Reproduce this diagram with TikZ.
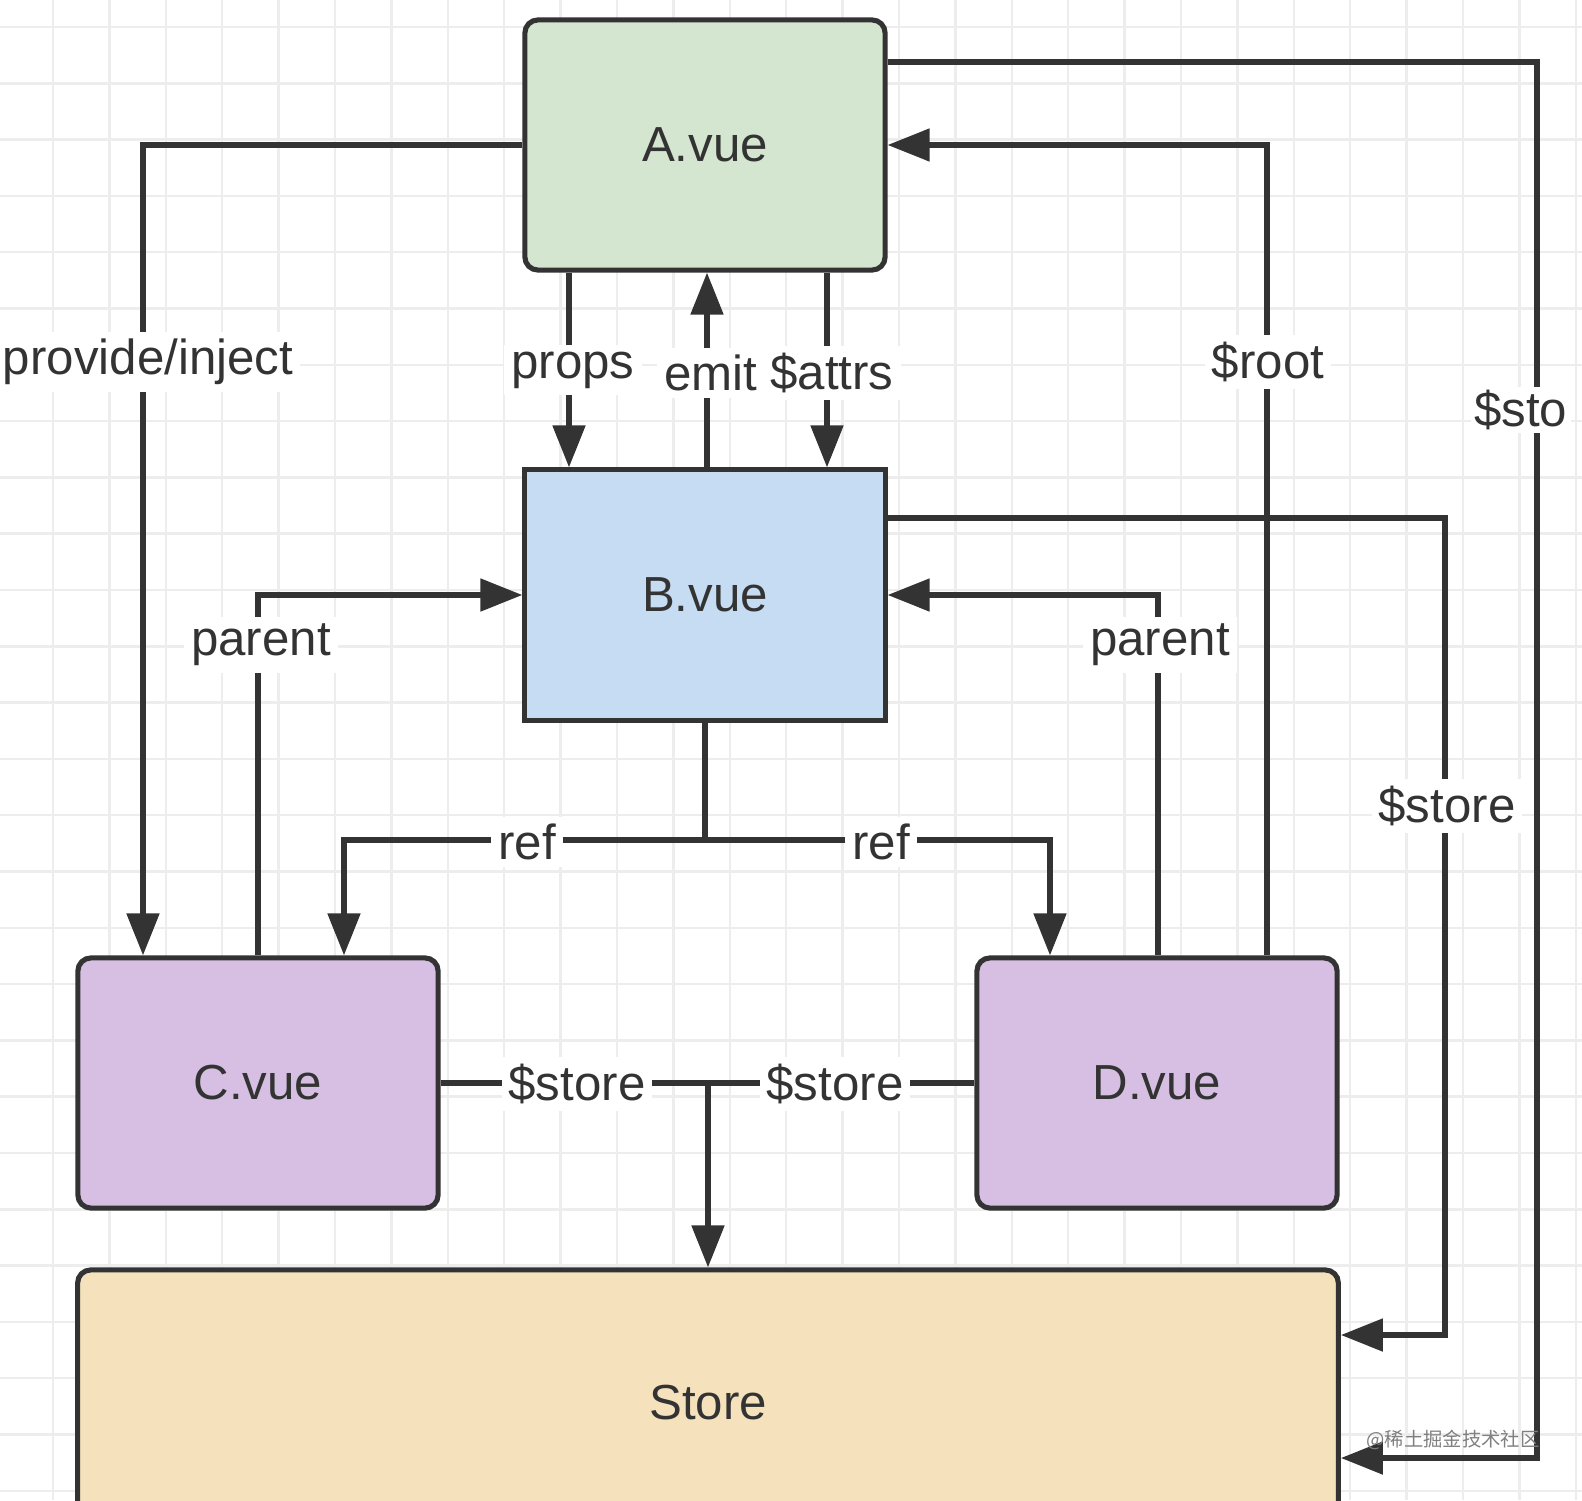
\documentclass[tikz,border=0pt]{standalone}
\usepackage{fontspec}
\setmainfont{Liberation Sans}
\newfontfamily\cjk{Noto Sans CJK SC}
\usetikzlibrary{arrows.meta}
\definecolor{ink}{HTML}{333333}
\definecolor{gA}{HTML}{D4E6D0}
\definecolor{bB}{HTML}{C6DCF3}
\definecolor{pC}{HTML}{D6BFE2}
\definecolor{yS}{HTML}{F5E1BB}
\definecolor{gridc}{HTML}{EDEDED}
\begin{document}
\begin{tikzpicture}[x=0.01cm,y=-0.01cm,
  box/.style={draw=ink, line width=1.45pt, rounded corners=0.13cm, inner sep=0,
    minimum width=3.6cm, minimum height=2.5cm, font=\fontsize{14}{17}\selectfont, text=ink},
  conn/.style={draw=ink, line width=1.45pt, -{Triangle[length=0.42cm,width=0.32cm]}},
  plain/.style={draw=ink, line width=1.45pt},
  lbl/.style={fill=white, inner sep=2pt, font=\fontsize{14}{17}\selectfont, text=ink},
  gridl/.style={draw=gridc, line width=0.7pt}]
\useasboundingbox (0,0) rectangle (1582,1500);
\clip (0,0) rectangle (1582,1500);
\fill[white] (0,0) rectangle (1582,1500);
\foreach \i in {0,...,27} {\draw[gridl] ({53+56.4*\i},0) -- ({53+56.4*\i},1500);}
\foreach \i in {0,...,26} {\draw[gridl] (0,{27+56.3*\i}) -- (1582,{27+56.3*\i});}

% boxes
\node[box, fill=gA] (A) at (705,145) {A.vue};
\node[box, fill=bB, rounded corners=0pt] (B) at (705,595) {B.vue};
\node[box, fill=pC] (C) at (258,1083) {C.vue};
\node[box, fill=pC] (D) at (1157,1083) {D.vue};
\node[box, fill=yS, minimum width=12.6cm, minimum height=2.66cm] (S) at (708,1403) {Store};

% connectors
\draw[conn] (A.west) -| (143,0 |- C.north);
\draw[conn] (569,0 |- A.south) -- (569,0 |- B.north);
\draw[conn] (707,0 |- B.north) -- (707,0 |- A.south);
\draw[conn] (827,0 |- A.south) -- (827,0 |- B.north);
\draw[conn] (1267,0 |- D.north) |- (A.east);
\draw[conn] (A.east |- 0,62) -| (1537,1458) -- (S.east |- 0,1458);
\draw[conn] (B.east |- 0,518) -| (1445,1335) -- (S.east |- 0,1335);
\draw[conn] (258,0 |- C.north) |- (B.west);
\draw[conn] (1158,0 |- D.north) |- (B.east);
\coordinate (rj) at (705,840);
\draw[plain] (B.south) -- (rj);
\draw[conn] (rj) -| (344,0 |- C.north);
\draw[conn] (rj) -| (1050,0 |- D.north);
\coordinate (sj) at (708,1083);
\draw[plain] (C.east) -- (D.west);
\draw[conn] (sj) -- (sj |- S.north);

% labels
\node[lbl] (l1) at (148,362) {provide/inject};
\node[lbl] (l2) at (573,370) {props};
\node[lbl] (l3) at (711,373) {emit};
\node[lbl] (l4) at (832,373) {\$attrs};
\node[lbl] (l5) at (1268,362) {\$root};
\node[lbl, anchor=west, inner sep=1pt] (l6) at (1470,410) {\$sto};
\node[lbl] (l7) at (1447,806) {\$store};
\node[lbl] (l8) at (261,645) {parent};
\node[lbl] (l9) at (1160,645) {parent};
\node[lbl] (l10) at (527,842) {ref};
\node[lbl] (l11) at (881,842) {ref};
\node[lbl] (l12) at (577,1084) {\$store};
\node[lbl] (l13) at (835,1084) {\$store};
\node[font=\cjk\fontsize{5.5}{6}\selectfont, text=gray] (wm) at (1453,1440) {@稀土掘金技术社区};
\end{tikzpicture}
\end{document}
